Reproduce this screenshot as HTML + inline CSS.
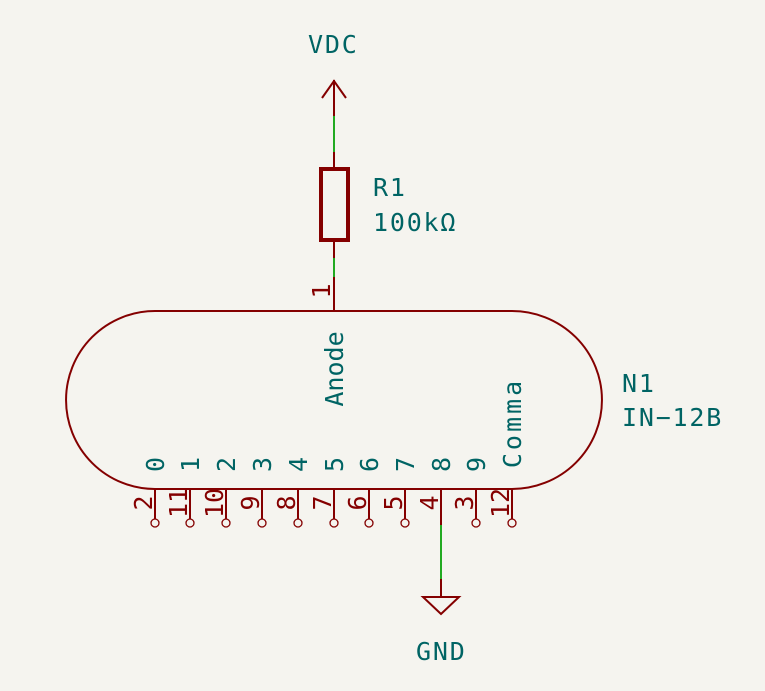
<!DOCTYPE html>
<html><head><meta charset="utf-8"><style>
html,body{margin:0;padding:0;background:#f5f4ef;}
svg{display:block;}
text{font-family:"DejaVu Sans Mono","Liberation Mono",monospace;}
</style></head><body>
<svg width="765" height="691" viewBox="0 0 765 691" xmlns="http://www.w3.org/2000/svg">
<rect width="765" height="691" fill="#f5f4ef"/>
<g stroke="#840000" stroke-width="2" fill="none">
<line x1="334" y1="80" x2="334" y2="116"/>
<polyline points="322,98 334,81 346,98"/>
<line x1="334" y1="152" x2="334" y2="168"/>
<rect x="321" y="169" width="27" height="71" stroke-width="4"/>
<line x1="334" y1="240" x2="334" y2="258"/>
<line x1="334" y1="277" x2="334" y2="311"/>
<path d="M155,311 L512,311 A90,89 0 0 1 512,489 L155,489 A89,89 0 0 1 155,311 Z"/>
<line x1="441" y1="489" x2="441" y2="525"/>
<line x1="441" y1="579" x2="441" y2="596"/>
<polygon points="423,597 459,597 441,614"/>
</g>
<g stroke="#22aa22" stroke-width="2">
<line x1="334" y1="116" x2="334" y2="152"/>
<line x1="334" y1="258" x2="334" y2="277"/>
<line x1="441" y1="525" x2="441" y2="579"/>
</g>
<g stroke="#840000" stroke-width="2" fill="none">
<line x1="155" y1="489" x2="155" y2="519"/><circle cx="155" cy="523" r="4" stroke-width="1.3"/>
<line x1="190" y1="489" x2="190" y2="519"/><circle cx="190" cy="523" r="4" stroke-width="1.3"/>
<line x1="226" y1="489" x2="226" y2="519"/><circle cx="226" cy="523" r="4" stroke-width="1.3"/>
<line x1="262" y1="489" x2="262" y2="519"/><circle cx="262" cy="523" r="4" stroke-width="1.3"/>
<line x1="298" y1="489" x2="298" y2="519"/><circle cx="298" cy="523" r="4" stroke-width="1.3"/>
<line x1="334" y1="489" x2="334" y2="519"/><circle cx="334" cy="523" r="4" stroke-width="1.3"/>
<line x1="369" y1="489" x2="369" y2="519"/><circle cx="369" cy="523" r="4" stroke-width="1.3"/>
<line x1="405" y1="489" x2="405" y2="519"/><circle cx="405" cy="523" r="4" stroke-width="1.3"/>
<line x1="476" y1="489" x2="476" y2="519"/><circle cx="476" cy="523" r="4" stroke-width="1.3"/>
<line x1="512" y1="489" x2="512" y2="519"/><circle cx="512" cy="523" r="4" stroke-width="1.3"/>
</g>
<g fill="#006464" font-size="25" letter-spacing="1.8">
<text x="308" y="53">VDC</text>
<text x="373" y="196">R1</text>
<text x="373" y="231">100kΩ</text>
<text x="622" y="392">N1</text>
<text x="622" y="426">IN−12B</text>
<text x="416" y="660">GND</text>
<g letter-spacing="0">
<text transform="translate(343,369) rotate(-90)" text-anchor="middle">Anode</text>
<text transform="translate(521,423) rotate(-90)" text-anchor="middle" letter-spacing="3">Comma</text>
<g text-anchor="start">
<text transform="translate(164,472) rotate(-90)">0</text>
<text transform="translate(199,472) rotate(-90)">1</text>
<text transform="translate(235,472) rotate(-90)">2</text>
<text transform="translate(271,472) rotate(-90)">3</text>
<text transform="translate(307,472) rotate(-90)">4</text>
<text transform="translate(343,472) rotate(-90)">5</text>
<text transform="translate(378,472) rotate(-90)">6</text>
<text transform="translate(414,472) rotate(-90)">7</text>
<text transform="translate(450,472) rotate(-90)">8</text>
<text transform="translate(485,472) rotate(-90)">9</text>
</g></g>
</g>
<g fill="#840000" font-size="25" text-anchor="middle">
<text transform="translate(330,291) rotate(-90)">1</text>
<text transform="translate(152,503) rotate(-90)">2</text>
<text transform="translate(187,503) rotate(-90)">11</text>
<text transform="translate(223,503) rotate(-90)">10</text>
<text transform="translate(259,503) rotate(-90)">9</text>
<text transform="translate(295,503) rotate(-90)">8</text>
<text transform="translate(331,503) rotate(-90)">7</text>
<text transform="translate(366,503) rotate(-90)">6</text>
<text transform="translate(402,503) rotate(-90)">5</text>
<text transform="translate(438,503) rotate(-90)">4</text>
<text transform="translate(473,503) rotate(-90)">3</text>
<text transform="translate(509,503) rotate(-90)">12</text>
</g>
</svg>
</body></html>
